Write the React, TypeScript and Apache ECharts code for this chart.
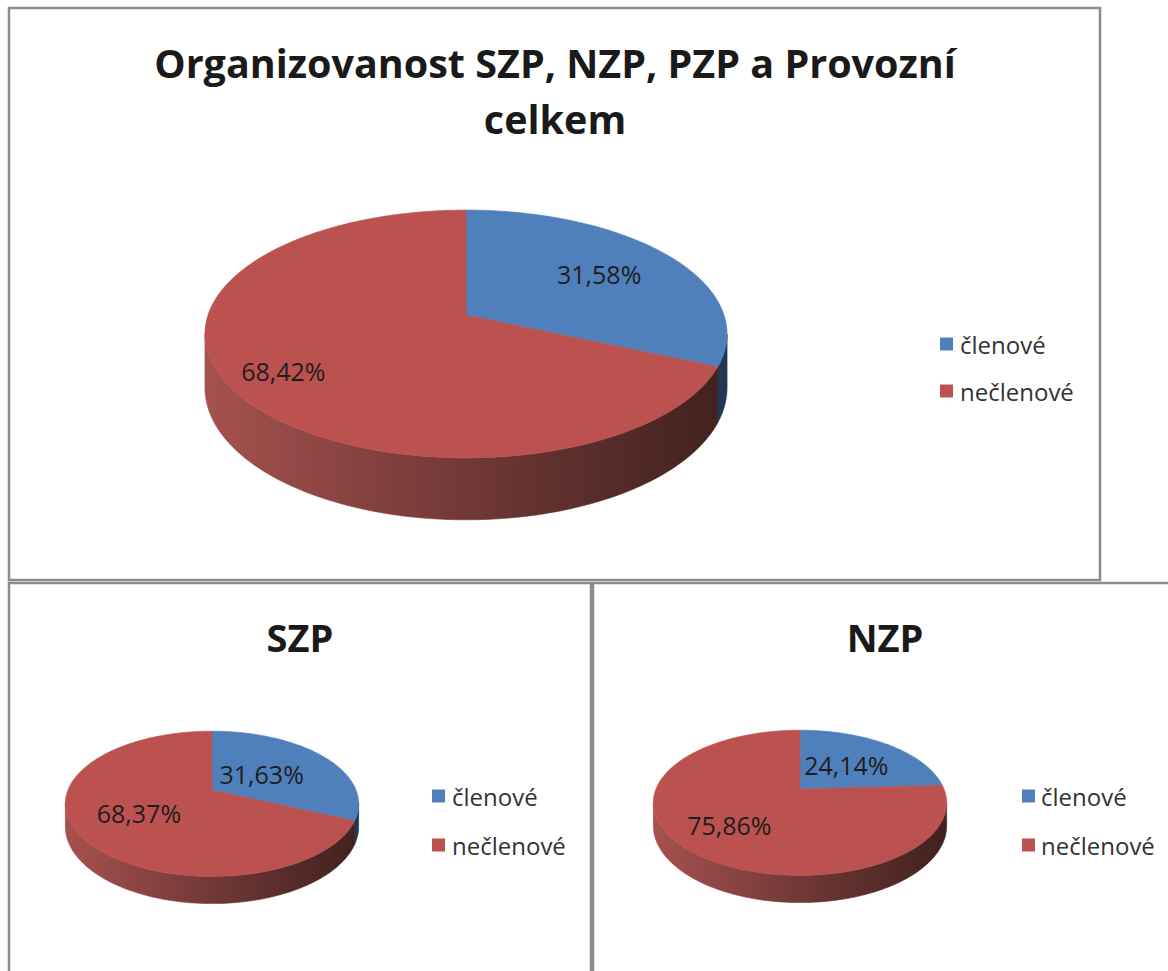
import React, { useEffect, useRef } from "react";
import * as echarts from "echarts";

// ---- data ----
const categories = ["členové", "nečlenové"];
const chartTitles = ["Organizovanost SZP, NZP, PZP a Provozní\ncelkem", "SZP", "NZP"];
const celkemValues = [31.58, 68.42];
const szpValues = [31.63, 68.37];
const nzpValues = [24.14, 75.86];

// ---- styles ----
const FONT = "'Open Sans', 'Noto Sans', sans-serif";
const topColors = ["#4f80bb", "#bb524f"];
const wallStops: [number, string][][] = [
  [
    [0, "#4c77ad"],
    [1, "#1f3654"],
  ],
  [
    [0, "#a6514e"],
    [0.5, "#713836"],
    [1, "#40211e"],
  ],
];

type Geo = { cx: number; cy: number; R: number; Ry: number; k: number; h: number; labelFr: number[] };

const pieGeoms: Geo[] = [
  { cx: 466, cy: 315, R: 258, Ry: 121, k: 0.153, h: 52.5, labelFr: [0.65, 0.79] },
  { cx: 212, cy: 790, R: 144, Ry: 70, k: 0.19, h: 22, labelFr: [0.43, 0.57] },
  { cx: 800, cy: 789, R: 144, Ry: 70, k: 0.19, h: 22, labelFr: [0.5, 0.65] },
];

const titleLayout = [
  { x: 555, y: 91, size: 39.5 },
  { x: 300, y: 637, size: 38 },
  { x: 885, y: 637, size: 38 },
];

const legendLayout = [
  { sqX: 940, textX: 960, ys: [344, 391] },
  { sqX: 432, textX: 452, ys: [796, 845] },
  { sqX: 1022, textX: 1041, ys: [796, 845] },
];

const panels = [
  { x: 9, y: 8, w: 1091, h: 572 },
  { x: 9, y: 583, w: 582, h: 420 },
  { x: 593, y: 583, w: 620, h: 420 },
];

function fmtPct(v: number, total: number) {
  return (v / total * 100).toFixed(2).replace(".", ",") + "%";
}

function makePie(values: number[], g: Geo) {
  const total = values.reduce((a, b) => a + b, 0);
  const cum = [0];
  values.forEach((v) => cum.push(cum[cum.length - 1] + v));
  const pt = (t: number, f: number, d: number) => {
    const s = 1 / (1 - g.k * f * Math.sin(t));
    return [g.cx + f * g.R * Math.cos(t) * s, g.cy + (f * g.Ry * Math.sin(t) + d) * s];
  };
  const halfW = g.R / Math.sqrt(1 - g.k * g.k);
  return {
    type: "custom",
    coordinateSystem: "none",
    silent: true,
    data: values.map((v, i) => ({ name: categories[i], value: v })),
    renderItem: (params: any, api: any) => {
      const i = params.dataIndex;
      const a = -Math.PI / 2 + (2 * Math.PI * cum[i]) / total;
      const b = -Math.PI / 2 + (2 * Math.PI * cum[i + 1]) / total;
      const children: any[] = [];
      // top face
      const n = Math.max(2, Math.ceil(((b - a) / (2 * Math.PI)) * 240));
      const topPts: number[][] = [pt(0, 0, 0)];
      for (let j = 0; j <= n; j++) topPts.push(pt(a + ((b - a) * j) / n, 1, 0));
      children.push({
        type: "polygon",
        shape: { points: topPts },
        style: { fill: topColors[i], stroke: topColors[i], lineWidth: 0.6 },
        z2: 10,
      });
      // side wall (visible front part)
      const t0 = Math.asin(g.k);
      const t1 = Math.PI - t0;
      const wa = Math.max(a, t0);
      const wb = Math.min(b, t1);
      if (wb > wa) {
        const m = Math.max(2, Math.ceil(((wb - wa) / (2 * Math.PI)) * 240));
        const up: number[][] = [];
        const down: number[][] = [];
        for (let j = 0; j <= m; j++) {
          const t = wa + ((wb - wa) * j) / m;
          up.push(pt(t, 1, 0));
          down.push(pt(t, 1, g.h));
        }
        const grad = new echarts.graphic.LinearGradient(
          g.cx - halfW,
          0,
          g.cx + halfW,
          0,
          wallStops[i].map(([o, c]) => ({ offset: o, color: c })),
          true
        );
        children.push({
          type: "polygon",
          shape: { points: up.concat(down.reverse()) },
          style: { fill: grad, stroke: grad, lineWidth: 0.6 },
          z2: 5,
        });
      }
      // label
      const mid = (a + b) / 2;
      const lp = pt(mid, g.labelFr[i], 0);
      children.push({
        type: "text",
        x: lp[0],
        y: lp[1],
        style: {
          text: fmtPct(api.value(0), total),
          fill: "#1e1e1e",
          fontSize: 25,
          fontFamily: FONT,
          align: "center",
          verticalAlign: "middle",
        },
        z2: 20,
      });
      return { type: "group", children };
    },
  };
}

function buildOption() {
  const graphic: any[] = [];
  panels.forEach((p) => {
    graphic.push({
      type: "rect",
      shape: { x: p.x, y: p.y, width: p.w, height: p.h },
      style: { fill: "#ffffff", stroke: "#8c8c8c", lineWidth: 2.5 },
      z: 0,
    });
  });
  chartTitles.forEach((t, i) => {
    graphic.push({
      type: "text",
      x: titleLayout[i].x,
      y: titleLayout[i].y,
      style: {
        text: t,
        fill: "#1a1a1a",
        fontSize: titleLayout[i].size,
        fontWeight: "bold",
        fontFamily: FONT,
        lineHeight: 56,
        align: "center",
        verticalAlign: "middle",
      },
      z: 1,
    });
  });
  legendLayout.forEach((L) => {
    categories.forEach((c, j) => {
      graphic.push({
        type: "rect",
        shape: { x: L.sqX, y: L.ys[j] - 6.5, width: 13, height: 13 },
        style: { fill: topColors[j] },
        z: 1,
      });
      graphic.push({
        type: "text",
        x: L.textX,
        y: L.ys[j],
        style: {
          text: c,
          fill: "#333333",
          fontSize: 24,
          fontFamily: FONT,
          align: "left",
          verticalAlign: "middle",
        },
        z: 1,
      });
    });
  });
  return {
    animation: false,
    backgroundColor: "#ffffff",
    graphic,
    series: [
      makePie(celkemValues, pieGeoms[0]),
      makePie(szpValues, pieGeoms[1]),
      makePie(nzpValues, pieGeoms[2]),
    ],
  };
}

export default function App() {
  const ref = useRef<HTMLDivElement>(null);
  useEffect(() => {
    const chart = echarts.init(ref.current!, null, { renderer: "svg" });
    chart.setOption(buildOption() as any);
    return () => chart.dispose();
  }, []);
  return (
    <div
      ref={ref}
      style={{ position: "absolute", left: 0, top: 0, width: 1168, height: 971 }}
    />
  );
}
